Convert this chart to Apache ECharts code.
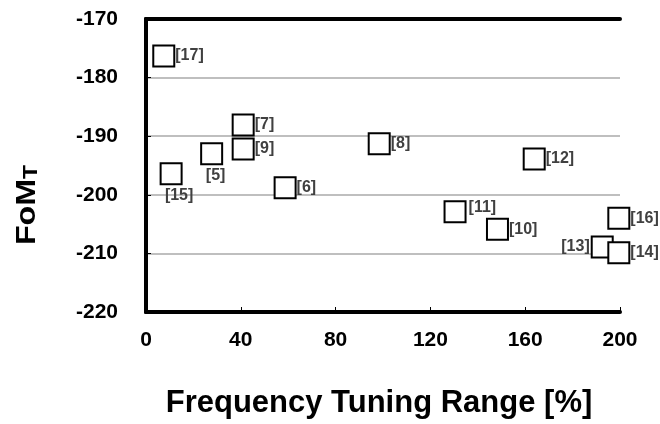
<!DOCTYPE html>
<html><head><meta charset="utf-8">
<script src="https://cdn.jsdelivr.net/npm/echarts@6/dist/echarts.min.js"></script>
<style>html,body{margin:0;padding:0;background:#fff}#c{width:660px;height:424px}</style>
</head><body><div id="c"></div>
<script>
const refs = ['[17]','[7]','[9]','[5]','[15]','[6]','[8]','[12]','[11]','[10]','[16]','[13]','[14]'];
const tuningRange = [7.5, 41, 41, 27.7, 10.6, 58.7, 98.4, 163.8, 130.4, 148.3, 199.5, 192.5, 199.5];
const fomT = [-176.3, -188.1, -192.2, -193.0, -196.4, -198.8, -191.3, -193.9, -202.9, -205.9, -204.0, -208.9, -209.9];
const xTicks = [0, 40, 80, 120, 160, 200];
const yTicks = [-220, -210, -200, -190, -180, -170];

const FONT = 'Liberation Sans, Arial, sans-serif';
const labelPlace = {
  '[5]': {position: 'bottom', offset: [4, 0]},
  '[15]': {position: 'bottom', offset: [8, 0]},
  '[13]': {position: 'left', offset: [1, 0]},
  '[11]': {position: 'right', offset: [0, -4]}
};
const data = refs.map((r, i) => {
  const p = labelPlace[r] || {position: 'right', offset: [-2, 0]};
  return {value: [tuningRange[i], fomT[i]], name: r, label: {position: p.position, offset: p.offset, distance: 2}};
});

const xMin = xTicks[0], xMax = xTicks[xTicks.length - 1];
const yMin = yTicks[0], yMax = yTicks[yTicks.length - 1];
const frameLine = {show: true, lineStyle: {color: '#000', width: 4}};

const chart = echarts.init(document.getElementById('c'));
chart.setOption({
  animation: false,
  grid: {left: 146, right: 40, top: 19, bottom: 109},
  xAxis: [{
    type: 'value', min: xMin, max: xMax, interval: 40,
    axisLine: frameLine,
    axisTick: {show: true, inside: true, length: 5, lineStyle: {color: '#000', width: 1}},
    splitLine: {show: false},
    axisLabel: {color: '#000', fontFamily: FONT, fontWeight: 'bold', fontSize: 21, margin: 18},
    name: 'Frequency Tuning Range [%]', nameLocation: 'middle', nameGap: 76,
    nameTextStyle: {color: '#000', fontFamily: FONT, fontWeight: 'bold', fontSize: 31, padding: [0, 8, 0, 0]}
  }, {
    type: 'value', position: 'top', min: xMin, max: xMax, interval: 40,
    axisLine: frameLine, axisTick: {show: false}, axisLabel: {show: false}, splitLine: {show: false}
  }],
  yAxis: [{
    type: 'value', min: yMin, max: yMax, interval: 10,
    axisLine: frameLine,
    axisTick: {show: true, inside: true, length: 5, lineStyle: {color: '#000', width: 1}},
    splitLine: {show: true, showMinLine: false, showMaxLine: false, lineStyle: {color: '#bfbfbf', width: 2}},
    axisLabel: {color: '#000', fontFamily: FONT, fontWeight: 'bold', fontSize: 21, margin: 28}
  }, {
    type: 'value', position: 'right', min: yMin, max: yMax, interval: 10,
    axisLine: frameLine, axisTick: {show: false}, axisLabel: {show: false}, splitLine: {show: false}
  }],
  graphic: [{
    type: 'text', x: 27, y: 205, rotation: Math.PI / 2, scaleX: 1.15,
    style: {
      text: '{a|FoM}{b|T}', align: 'center', verticalAlign: 'middle',
      rich: {
        a: {fontFamily: FONT, fontWeight: 'bold', fontSize: 28, fill: '#000'},
        b: {fontFamily: FONT, fontWeight: 'bold', fontSize: 20, fill: '#000', verticalAlign: 'bottom', padding: [8, 0, 0, 0]}
      }
    }
  }],
  series: [{
    type: 'scatter', symbol: 'rect', symbolSize: 21, clip: false, z: 5,
    itemStyle: {color: '#fff', borderColor: '#000', borderWidth: 2, opacity: 1},
    label: {show: true, formatter: '{b}', color: '#404040', fontFamily: FONT, fontWeight: 'bold', fontSize: 16},
    data: data
  }]
});
</script></body></html>
